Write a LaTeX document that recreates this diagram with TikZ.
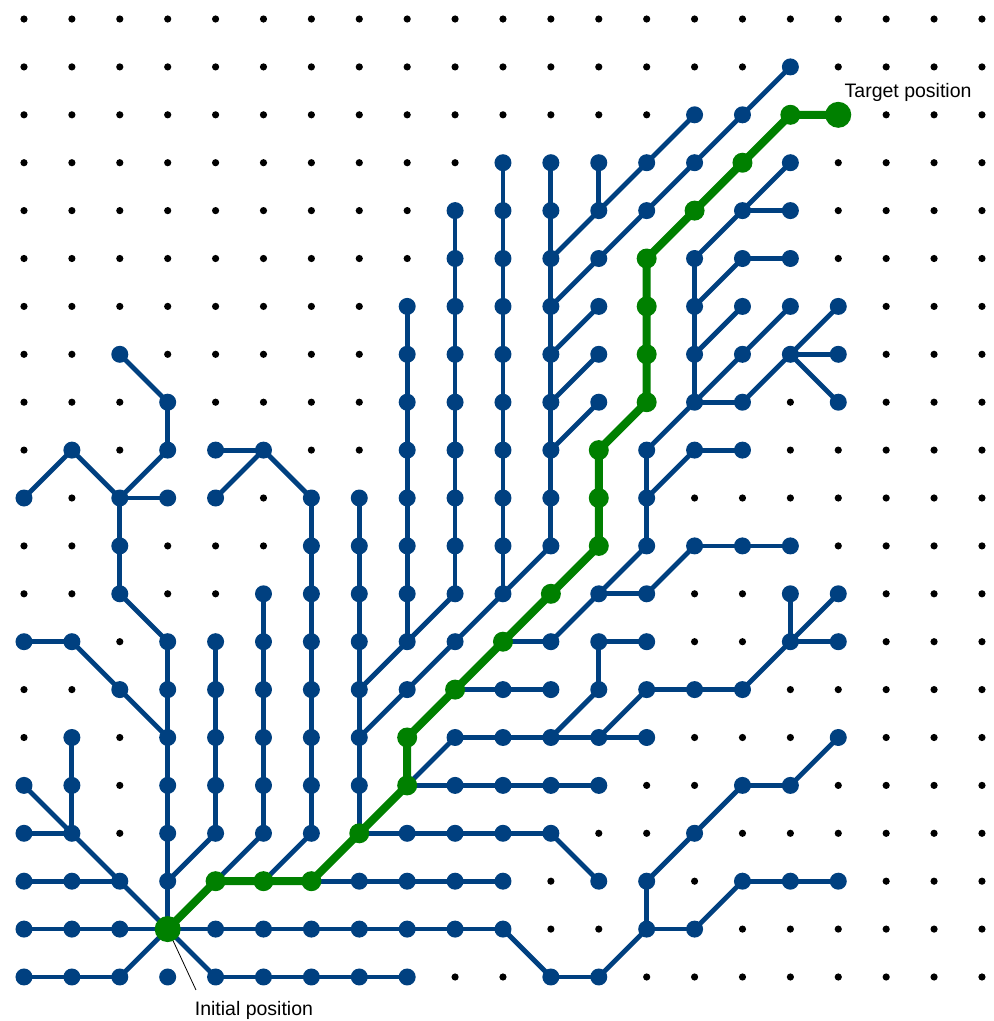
\documentclass[tikz,border=0pt]{standalone}
\usepackage{fontspec}
\setmainfont{Liberation Sans}
\definecolor{bluec}{RGB}{0,64,128}
\definecolor{greenc}{RGB}{0,128,0}
\pgfdeclarelayer{dots}
\pgfdeclarelayer{edges}
\pgfdeclarelayer{pathlayer}
\pgfsetlayers{dots,edges,pathlayer,main}
\tikzset{
  treenode/.style={circle, fill=bluec, draw=none, minimum size=17pt, inner sep=0pt, outer sep=0pt},
  pathnode/.style={circle, fill=greenc, draw=none, minimum size=20pt, inner sep=0pt, outer sep=0pt},
  endnode/.style={pathnode, minimum size=26pt},
  treeedge/.style={draw=bluec, line width=4.8pt},
  pathedge/.style={draw=greenc, line width=8pt, line join=round},
  leader/.style={draw=black, line width=0.8pt},
  labeltext/.style={inner sep=0pt, text=black, font=\fontsize{19.5}{23}\selectfont}
}
\begin{document}
\begin{tikzpicture}[x=47.9pt, y=-47.9pt]
\useasboundingbox (-0.501,-0.397) rectangle (20.251,20.919);

% grid of dots
\begin{pgfonlayer}{dots}
\foreach \i in {0,...,20} {
  \foreach \j in {0,...,20} {
    \fill[black] (\i,\j) circle[radius=3.6pt];
  }
}
\end{pgfonlayer}

% blue tree nodes
\foreach \c/\r in {
 16/1,
 14/2, 15/2,
 10/3, 11/3, 12/3, 13/3, 14/3, 16/3,
 9/4, 10/4, 11/4, 12/4, 13/4, 15/4, 16/4,
 9/5, 10/5, 11/5, 12/5, 14/5, 15/5, 16/5,
 8/6, 9/6, 10/6, 11/6, 12/6, 14/6, 15/6, 16/6, 17/6,
 2/7, 8/7, 9/7, 10/7, 11/7, 12/7, 14/7, 15/7, 16/7, 17/7,
 3/8, 8/8, 9/8, 10/8, 11/8, 12/8, 14/8, 15/8, 17/8,
 1/9, 3/9, 4/9, 5/9, 8/9, 9/9, 10/9, 11/9, 13/9, 14/9, 15/9,
 0/10, 2/10, 3/10, 4/10, 6/10, 7/10, 8/10, 9/10, 10/10, 11/10, 13/10,
 2/11, 6/11, 7/11, 8/11, 9/11, 10/11, 11/11, 13/11, 14/11, 15/11, 16/11,
 2/12, 5/12, 6/12, 7/12, 8/12, 9/12, 10/12, 12/12, 13/12, 16/12, 17/12,
 0/13, 1/13, 3/13, 4/13, 5/13, 6/13, 7/13, 8/13, 9/13, 11/13, 12/13, 13/13, 16/13, 17/13,
 2/14, 3/14, 4/14, 5/14, 6/14, 7/14, 8/14, 10/14, 11/14, 12/14, 13/14, 14/14, 15/14,
 1/15, 3/15, 4/15, 5/15, 6/15, 7/15, 9/15, 10/15, 11/15, 12/15, 13/15, 17/15,
 0/16, 1/16, 3/16, 4/16, 5/16, 6/16, 7/16, 9/16, 10/16, 11/16, 12/16, 15/16, 16/16,
 0/17, 1/17, 3/17, 4/17, 5/17, 6/17, 8/17, 9/17, 10/17, 11/17, 14/17,
 0/18, 1/18, 2/18, 3/18, 7/18, 8/18, 9/18, 10/18, 12/18, 13/18, 15/18, 16/18, 17/18,
 0/19, 1/19, 2/19, 4/19, 5/19, 6/19, 7/19, 8/19, 9/19, 10/19, 13/19, 14/19,
 0/20, 1/20, 2/20, 3/20, 4/20, 5/20, 6/20, 7/20, 8/20, 11/20, 12/20}
{ \node[treenode] (p-\c-\r) at (\c,\r) {}; }

% green path nodes
\node[endnode, alias=p-3-19] (init) at (3,19) {};
\node[endnode, alias=p-17-2] (target) at (17,2) {};
\foreach \c/\r in {4/18, 5/18, 6/18, 7/17, 8/16, 8/15, 9/14, 10/13, 11/12, 12/11,
  12/10, 12/9, 13/8, 13/7, 13/6, 13/5, 14/4, 15/3, 16/2}
{ \node[pathnode] (p-\c-\r) at (\c,\r) {}; }

% blue edges
\begin{pgfonlayer}{edges}
% vertical runs: column / first row / last row
\foreach \c/\a/\b in {1/15/17, 2/10/12, 3/8/9, 3/13/19, 4/13/17, 5/12/17, 6/10/17,
  7/10/17, 8/6/13, 9/4/12, 10/3/12, 11/3/11, 12/3/4, 12/13/14, 13/9/11, 13/18/19,
  14/5/8, 16/12/13}
{
  \pgfmathtruncatemacro\e{\b-1}
  \foreach \r in {\a,...,\e} {
    \pgfmathtruncatemacro\s{\r+1}
    \draw[treeedge] (p-\c-\r.center) -- (p-\c-\s.center);
  }
}
% horizontal runs: row / first column / last column
\foreach \r/\a/\b in {20/0/2, 20/4/8, 20/11/12, 19/0/10, 19/13/14, 18/0/2, 18/6/10,
  18/15/17, 17/0/1, 17/7/11, 16/8/12, 16/15/16, 15/9/13, 14/9/11, 14/13/15,
  13/0/1, 13/10/11, 13/12/13, 13/16/17, 12/12/13, 11/14/16, 10/2/3, 9/4/5,
  9/14/15, 8/14/15, 7/16/17, 5/15/16, 4/15/16}
{
  \pgfmathtruncatemacro\e{\b-1}
  \foreach \c in {\a,...,\e} {
    \pgfmathtruncatemacro\s{\c+1}
    \draw[treeedge] (p-\c-\r.center) -- (p-\s-\r.center);
  }
}
% diagonal edges
\foreach \a/\b/\c/\d in {2/20/3/19, 3/19/4/20, 10/19/11/20, 12/20/13/19, 14/19/15/18,
  13/18/14/17, 14/17/15/16, 16/16/17/15, 2/18/3/19, 0/16/1/17, 1/17/2/18,
  2/14/3/15, 1/13/2/14, 2/12/3/13, 1/9/2/10, 0/10/1/9, 2/10/3/9, 2/7/3/8,
  4/17/3/18, 5/17/4/18, 6/17/5/18, 5/9/6/10, 4/10/5/9, 11/17/12/18,
  8/16/9/15, 11/15/12/14, 12/15/13/14, 15/14/16/13, 16/13/17/12,
  7/15/8/14, 8/14/9/13, 9/13/10/12, 10/12/11/11, 7/14/8/13, 8/13/9/12,
  11/5/12/4, 12/4/13/3, 13/3/14/2, 11/6/12/5, 12/5/13/4, 13/4/14/3,
  14/3/15/2, 15/2/16/1, 11/7/12/6, 11/8/12/7, 11/9/12/8,
  11/13/12/12, 12/12/13/11, 13/9/14/8, 13/10/14/9, 13/12/14/11,
  14/5/15/4, 15/4/16/3, 14/6/15/5, 14/7/15/6, 14/8/15/7, 15/7/16/6,
  15/8/16/7, 16/7/17/8, 16/7/17/6}
{ \draw[treeedge] (p-\a-\b.center) -- (p-\c-\d.center); }
\end{pgfonlayer}

% green path
\begin{pgfonlayer}{pathlayer}
\draw[pathedge] (init.center) -- (p-4-18.center) -- (p-5-18.center) -- (p-6-18.center)
  -- (p-7-17.center) -- (p-8-16.center) -- (p-8-15.center) -- (p-9-14.center)
  -- (p-10-13.center) -- (p-11-12.center) -- (p-12-11.center) -- (p-12-10.center)
  -- (p-12-9.center) -- (p-13-8.center) -- (p-13-7.center) -- (p-13-6.center)
  -- (p-13-5.center) -- (p-14-4.center) -- (p-15-3.center) -- (p-16-2.center)
  -- (target.center);
\end{pgfonlayer}

% labels
\node[labeltext, anchor=base west] (tlabel) at (17.13,1.63) {Target position};
\node[labeltext, anchor=base] (ilabel) at (4.80,20.81) {Initial position};
\coordinate (ltip) at (3.59,20.27);
\draw[leader] (init) -- (ltip);
\end{tikzpicture}
\end{document}
